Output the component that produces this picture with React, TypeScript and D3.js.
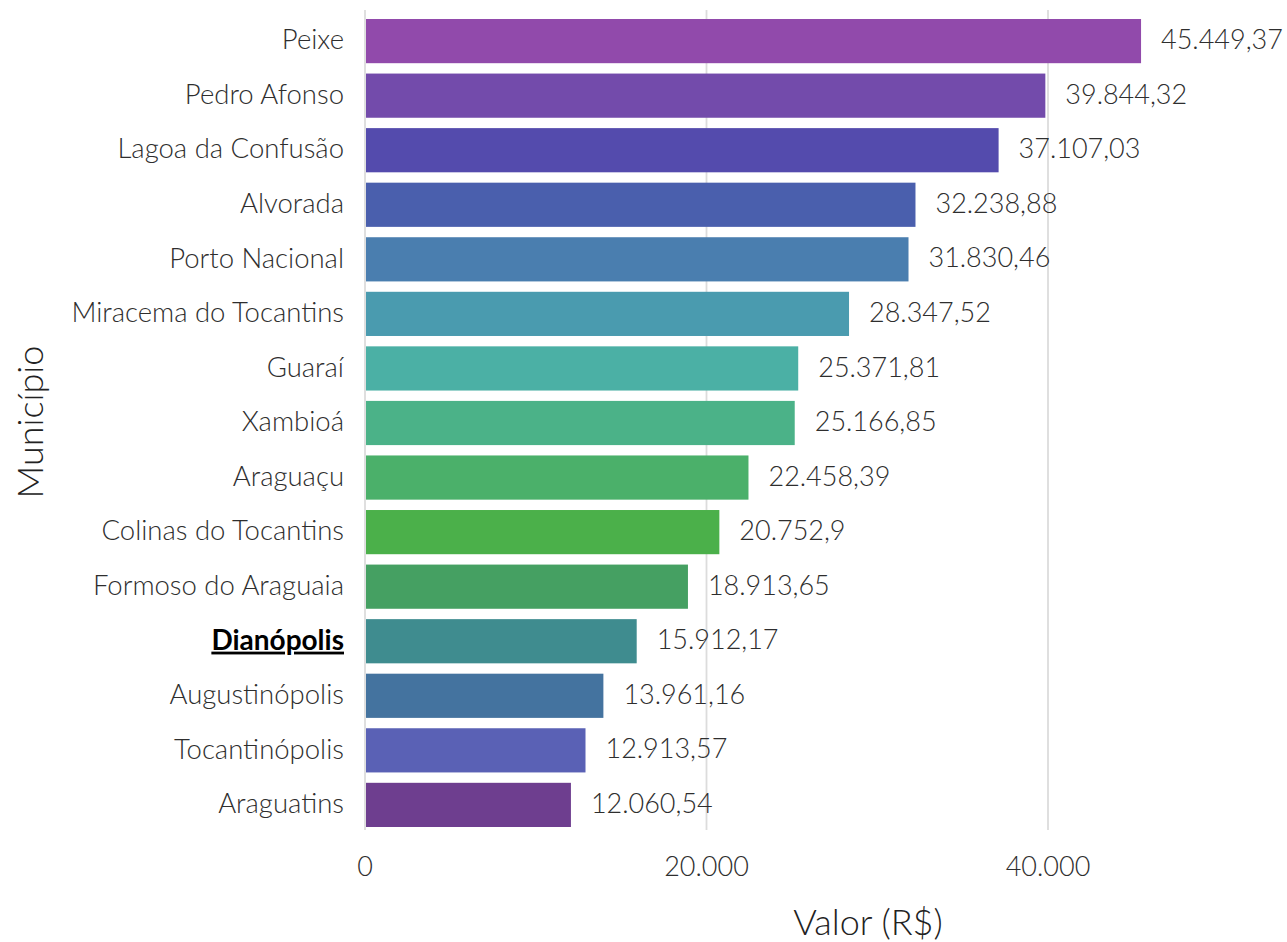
import { useMemo } from 'react';
import * as d3 from 'd3';

// municipalities, top to bottom
const municipios = [
  'Peixe',
  'Pedro Afonso',
  'Lagoa da Confusão',
  'Alvorada',
  'Porto Nacional',
  'Miracema do Tocantins',
  'Guaraí',
  'Xambioá',
  'Araguaçu',
  'Colinas do Tocantins',
  'Formoso do Araguaia',
  'Dianópolis',
  'Augustinópolis',
  'Tocantinópolis',
  'Araguatins',
];

const valores = [
  45449.37, 39844.32, 37107.03, 32238.88, 31830.46, 28347.52, 25371.81, 25166.85,
  22458.39, 20752.9, 18913.65, 15912.17, 13961.16, 12913.57, 12060.54,
];

const cores = [
  '#914AAB', '#734BAB', '#544BAD', '#4A5FAD', '#4A7EAF', '#4A9BAF', '#4BB0A5',
  '#4BB288', '#4BB06A', '#4BB04A', '#45A062', '#3F8C8F', '#44739F', '#5A61B5', '#6E3E8F',
];

const xTicks = [0, 20000, 40000];
const destaque = 'Dianópolis';

const W = 1287;
const H = 942;
const FONT = 'Lato, "Open Sans", sans-serif';

const ptBR = d3.formatLocale({
  decimal: ',',
  thousands: '.',
  grouping: [3],
  currency: ['R$', ''],
});
const fmtValue = ptBR.format(',.2~f');
const fmtTick = ptBR.format(',.0f');

export default function App() {
  const margin = { left: 365, top: 10, bottom: 112 };

  const x = useMemo(
    () => d3.scaleLinear().domain([0, 40000]).range([365, 1048]),
    []
  );
  const y = useMemo(
    () =>
      d3.scaleBand<string>()
        .domain(municipios)
        .range([19, 827])
        .paddingInner(0.19)
        .paddingOuter(0),
    []
  );

  const data = municipios.map((m, i) => ({ nome: m, valor: valores[i], cor: cores[i] }));
  const plotBottom = H - margin.bottom;

  return (
    <>
      <style>{'body{margin:0}'}</style>
      <svg width={W} height={H} style={{ display: 'block', background: '#fff' }} fontFamily={FONT}>
        {/* grid */}
        {xTicks.map(t => (
          <line
            key={t}
            x1={x(t)}
            x2={x(t)}
            y1={margin.top}
            y2={plotBottom}
            stroke="#dcdcdc"
            strokeWidth={1.8}
          />
        ))}

        {/* bars */}
        {data.map(d => (
          <rect
            key={d.nome}
            x={x(0) + 1}
            y={y(d.nome)}
            width={x(d.valor) - x(0) - 1}
            height={y.bandwidth()}
            fill={d.cor}
          />
        ))}

        {/* value labels */}
        {data.map(d => (
          <text
            key={d.nome + '-v'}
            x={x(d.valor) + 20}
            y={(y(d.nome) ?? 0) + y.bandwidth() / 2}
            dy="0.3em"
            fontSize={27}
            fontWeight={300}
            fill="#2e2e2e"
          >
            {fmtValue(d.valor)}
          </text>
        ))}

        {/* y tick labels */}
        {data.map(d => {
          const bold = d.nome === destaque;
          return (
            <text
              key={d.nome + '-l'}
              x={344}
              y={(y(d.nome) ?? 0) + y.bandwidth() / 2}
              dy="0.3em"
              textAnchor="end"
              fontSize={bold ? 28 : 27.5}
              fontWeight={bold ? 700 : 300}
              textDecoration={bold ? 'underline' : undefined}
              fill={bold ? '#000' : '#2e2e2e'}
            >
              {d.nome}
            </text>
          );
        })}

        {/* x tick labels */}
        {xTicks.map(t => (
          <text
            key={t + '-t'}
            x={x(t)}
            y={867}
            dy="0.35em"
            textAnchor="middle"
            fontSize={27}
            fontWeight={300}
            fill="#2e2e2e"
          >
            {fmtTick(t)}
          </text>
        ))}

        {/* axis titles */}
        <text x={868} y={935} textAnchor="middle" fontSize={36} fontWeight={300} fill="#222">
          Valor (R$)
        </text>
        <text
          transform={`translate(30, 422) rotate(-90)`}
          dy="0.35em"
          textAnchor="middle"
          fontSize={36}
          fontWeight={300}
          fill="#222"
        >
          Município
        </text>
      </svg>
    </>
  );
}
